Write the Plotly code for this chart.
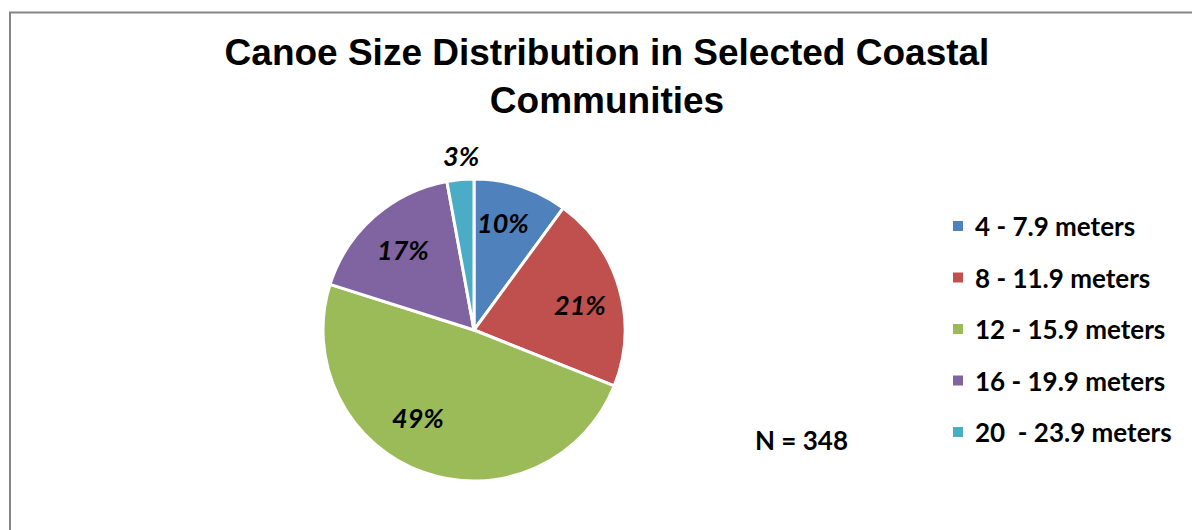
import math
import plotly.graph_objects as go

categories = ["4 - 7.9 meters", "8 - 11.9 meters", "12 - 15.9 meters",
              "16 - 19.9 meters", "20  - 23.9 meters"]
counts = [35, 73, 170, 60, 10]
colors = ["#4F81BD", "#C0504D", "#9BBB59", "#8064A2", "#4BACC6"]
title_text = "Canoe Size Distribution in Selected Coastal<br>Communities"
n_note = "N = 348"

# label placement style (fraction of radius, angular nudge in degrees)
label_radius_frac = [0.735, 0.72, 0.69, 0.71, 1.16]
label_angle_nudge = [-2.9, 2.7, 12.8, 0.0, 1.2]

W, H = 1192, 530
cx, cy, R = 474, 330, 151

fig = go.Figure()
fig.add_trace(go.Pie(
    labels=categories,
    values=counts,
    sort=False,
    direction="clockwise",
    rotation=0,
    marker=dict(colors=colors, line=dict(color="white", width=3)),
    textinfo="none",
    domain=dict(x=[(cx - R) / W, (cx + R) / W], y=[(H - cy - R) / H, (H - cy + R) / H]),
    showlegend=False,
    hoverinfo="label+percent",
))

shapes = [dict(type="rect", xref="paper", yref="paper",
               x0=10 / W, x1=1.05, y0=-0.1, y1=1 - 12.5 / H,
               line=dict(color="#868686", width=2), fillcolor="rgba(0,0,0,0)")]
annotations = []

# percentage labels derived from the data
total = sum(counts)
cum = 0
for v, rf, nud in zip(counts, label_radius_frac, label_angle_nudge):
    mid = (cum + v / 2) / total * 360 + nud
    cum += v
    px = cx + rf * R * math.sin(math.radians(mid))
    py = cy - rf * R * math.cos(math.radians(mid))
    annotations.append(dict(text=f"{round(100 * v / total)}%", xref="paper", yref="paper",
                            x=px / W, y=1 - py / H, xanchor="center", yanchor="middle",
                            showarrow=False,
                            font=dict(family="Lato", size=27, color="black",
                                      weight="bold", style="italic")))

# legend
for i, (lab, col) in enumerate(zip(categories, colors)):
    yc = 226 + i * 51.5
    shapes.append(dict(type="rect", xref="paper", yref="paper",
                       x0=953 / W, x1=963 / W,
                       y0=1 - (yc + 5) / H, y1=1 - (yc - 5) / H,
                       line=dict(width=0), fillcolor=col))
    annotations.append(dict(text=lab, xref="paper", yref="paper",
                            x=973 / W, y=1 - yc / H, xanchor="left", yanchor="middle",
                            showarrow=False,
                            font=dict(family="Lato", size=26, color="black", weight="bold")))

annotations.append(dict(text=n_note, xref="paper", yref="paper",
                        x=801 / W, y=1 - 440 / H, xanchor="center", yanchor="middle",
                        showarrow=False,
                        font=dict(family="Lato", size=26, color="black", weight="bold")))

fig.update_layout(
    width=W, height=H,
    margin=dict(l=0, r=0, t=0, b=0),
    paper_bgcolor="white",
    plot_bgcolor="white",
    title=dict(text=title_text, x=607 / W, xanchor="center", y=1 - 65 / H, yanchor="middle",
               font=dict(family="Liberation Sans", size=37, color="black", weight="bold")),
    shapes=shapes,
    annotations=annotations,
)

fig.write_html("out.html", config={"displayModeBar": False},
               post_script="document.body.style.margin='0px';document.body.style.overflow='hidden';")
